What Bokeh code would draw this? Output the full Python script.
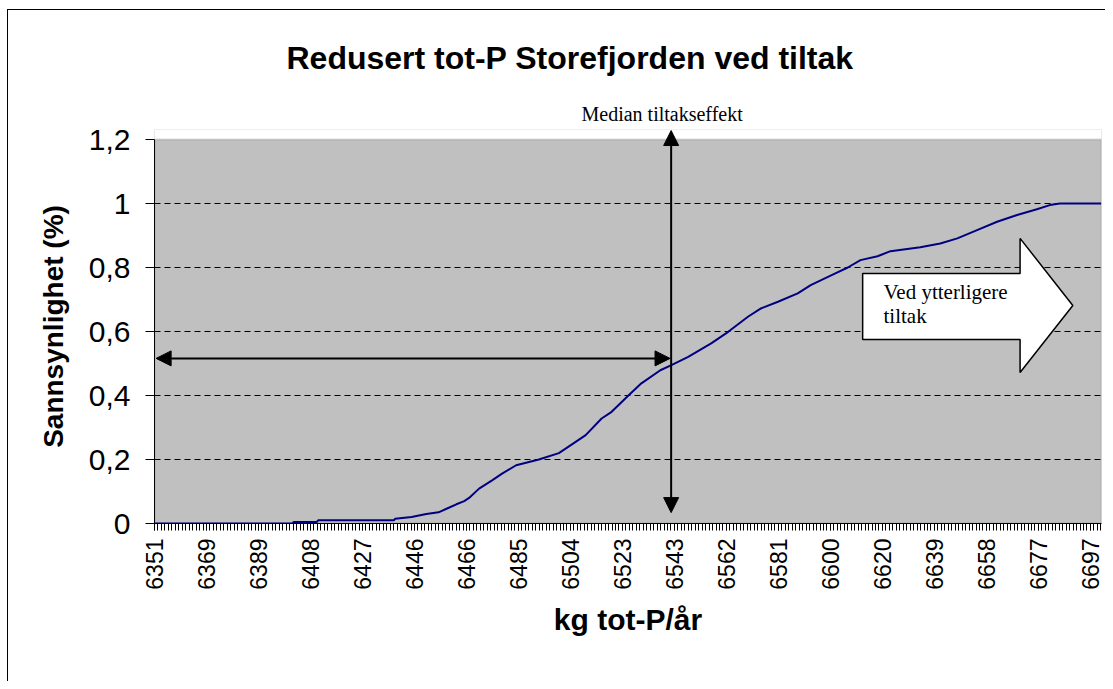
import math
from bokeh.plotting import figure
from bokeh.models import (Range1d, FixedTicker, CustomJSTickFormatter, Arrow,
                          NormalHead, Title, BoxAnnotation)
from bokeh.embed import file_html
from bokeh.resources import INLINE

# ---------------- data ----------------
title_text = "Redusert tot-P Storefjorden ved tiltak"
x_axis_title = "kg tot-P/år"
y_axis_title = "Sannsynlighet (%)"
median_text = "Median tiltakseffekt"
action_text_1 = "Ved ytterligere"
action_text_2 = "tiltak"

x_labels = ["6351", "6369", "6389", "6408", "6427", "6446", "6466", "6485",
            "6504", "6523", "6543", "6562", "6581", "6600", "6620", "6639",
            "6658", "6677", "6697"]
y_ticks = [0, 0.2, 0.4, 0.6, 0.8, 1.0, 1.2]

kg = [6351, 6402, 6402.5, 6411, 6411.5, 6439.5, 6440, 6446, 6451.5, 6456,
      6460, 6462.6, 6465.5, 6467.3, 6471, 6475.8, 6479.5, 6484.7, 6493.1,
      6500.5, 6506.7, 6510.4, 6516.3, 6520, 6526.3, 6531, 6538, 6542.1,
      6548.3, 6556.8, 6563.1, 6570.4, 6575.2, 6581.5, 6588.8, 6593.6, 6602.5,
      6607.3, 6612, 6618.3, 6623.1, 6634.1, 6641.5, 6647.8, 6655.1, 6662.5,
      6669.9, 6677.2, 6682, 6685.7, 6701]
prob = [0, 0, 0.005, 0.005, 0.01, 0.01, 0.015, 0.02, 0.03, 0.035,
        0.05, 0.06, 0.07, 0.08, 0.109, 0.135, 0.156, 0.182, 0.2,
        0.22, 0.255, 0.276, 0.328, 0.349, 0.401, 0.438, 0.479, 0.495,
        0.521, 0.563, 0.599, 0.646, 0.672, 0.693, 0.719, 0.745, 0.781,
        0.8, 0.823, 0.835, 0.851, 0.863, 0.875, 0.891, 0.917, 0.943,
        0.964, 0.982, 0.995, 1.0, 1.0]

median_kg = 6542
median_prob = 0.516

# ---------------- figure ----------------
X_MIN, X_MAX = 6351, 6701.1
Y_TOP = 1.2
Y_EXTRA = 1.23125   # small headroom above the plot area for the arrow head

x0 = float(x_labels[0])
step = (float(x_labels[-1]) - x0) / (len(x_labels) - 1)
x_tick_pos = [x0 + i * step for i in range(len(x_labels))]
minor_step = step / 15
minor_pos = [x0 + j * minor_step for j in range(int((X_MAX - x0) / minor_step) + 1)]

SANS = "Liberation Sans"
SERIF = "Liberation Serif"

p = figure(width=1105, height=681, output_backend="svg", toolbar_location=None,
           x_range=Range1d(X_MIN, X_MAX), y_range=Range1d(0, Y_EXTRA),
           min_border_left=154, min_border_right=4, min_border_top=129,
           min_border_bottom=158)
p.border_fill_color = None
p.styles = {
    "background-color": "white",
    "background-image": "linear-gradient(black, black), linear-gradient(black, black)",
    "background-size": "1px 100%, 100% 1px",
    "background-position": "7px 9px, 7px 9px",
    "background-repeat": "no-repeat",
}
p.background_fill_color = "#C0C0C0"
p.outline_line_color = None

# title (outermost) and the median caption just above the plot area
p.title = Title(text=title_text, align="left", offset=132, standoff=39,
                text_font=SANS, text_font_style="bold", text_font_size="32px",
                text_color="black")
p.add_layout(Title(text=median_text, align="left", offset=427, standoff=10,
                   text_font=SERIF, text_font_style="normal",
                   text_font_size="20px", text_color="black"), "above")

# white strip above 1.2 and grey frame border around the plot area
p.add_layout(BoxAnnotation(bottom=Y_TOP, top=Y_EXTRA + 1, fill_color="white",
                           fill_alpha=1, line_color=None, level="underlay"))
p.add_layout(BoxAnnotation(left=X_MIN, right=X_MAX, bottom=0, top=Y_TOP,
                           fill_alpha=0, line_color="#808080", line_width=2,
                           level="underlay"))

# x axis
xa = p.xaxis[0]
xa.ticker = FixedTicker(ticks=x_tick_pos, minor_ticks=minor_pos)
xa.formatter = CustomJSTickFormatter(
    args=dict(labels=x_labels, x0=x0, step=step),
    code="const i = Math.round((tick - x0) / step); return (i >= 0 && i < labels.length) ? labels[i] : '';")
xa.major_label_orientation = math.pi / 2
xa.major_tick_out = 7
xa.major_tick_in = 0
xa.minor_tick_out = 7
xa.minor_tick_in = 0
xa.axis_line_color = "black"
xa.major_tick_line_color = "black"
xa.minor_tick_line_color = "black"
xa.major_label_standoff = 8
xa.major_label_text_font = SANS
xa.major_label_text_font_size = "23px"
xa.major_label_text_color = "black"
xa.axis_label = x_axis_title
xa.axis_label_text_font = SANS
xa.axis_label_text_font_size = "30px"
xa.axis_label_text_font_style = "bold"
xa.axis_label_text_color = "black"
xa.axis_label_standoff = 10

# y axis
ya = p.yaxis[0]
ya.ticker = FixedTicker(ticks=y_ticks)
ya.bounds = (0, Y_TOP)
ya.formatter = CustomJSTickFormatter(
    code="let s = tick.toFixed(1).replace('.', ','); if (s.endsWith(',0')) s = s.slice(0, -2); return s;")
ya.major_tick_out = 9
ya.major_tick_in = 0
ya.minor_tick_line_color = None
ya.axis_line_color = "black"
ya.major_tick_line_color = "black"
ya.major_label_standoff = 15
ya.major_label_text_font = SANS
ya.major_label_text_font_size = "30px"
ya.major_label_text_color = "black"
ya.axis_label = y_axis_title
ya.axis_label_text_font = SANS
ya.axis_label_text_font_size = "28px"
ya.axis_label_text_font_style = "bold"
ya.axis_label_text_color = "black"
ya.axis_label_standoff = 17

# grid
p.xgrid.visible = False
p.ygrid.ticker = FixedTicker(ticks=y_ticks[1:-1])
p.ygrid.grid_line_color = "black"
p.ygrid.grid_line_dash = "6 4"
p.ygrid.grid_line_width = 1

# curve
p.line(kg, prob, line_color="#000080", line_width=2)

# block arrow "Ved ytterligere tiltak"
p.patch(x=[6612.8, 6671, 6671, 6690.5, 6671, 6671, 6612.8],
        y=[0.781, 0.781, 0.891, 0.6815, 0.472, 0.575, 0.575],
        fill_color="white", line_color="black", line_width=1.5)
p.text(x=[6620.5, 6620.5], y=[0.723, 0.65], text=[action_text_1, action_text_2],
       text_align="left", text_baseline="middle", text_font={"value": SERIF},
       text_font_size="21px", text_color="black")

# median arrows
head = dict(size=15, fill_color="black", line_color="black")
p.add_layout(Arrow(x_start=median_kg, y_start=0.034, x_end=median_kg, y_end=1.228,
                   line_color="black", line_width=2,
                   start=NormalHead(**head), end=NormalHead(**head)))
p.add_layout(Arrow(x_start=6351.6, y_start=median_prob, x_end=median_kg - 0.4,
                   y_end=median_prob, line_color="black", line_width=2,
                   start=NormalHead(**head), end=NormalHead(**head)))

open("out.html", "w").write(file_html(p, INLINE))
